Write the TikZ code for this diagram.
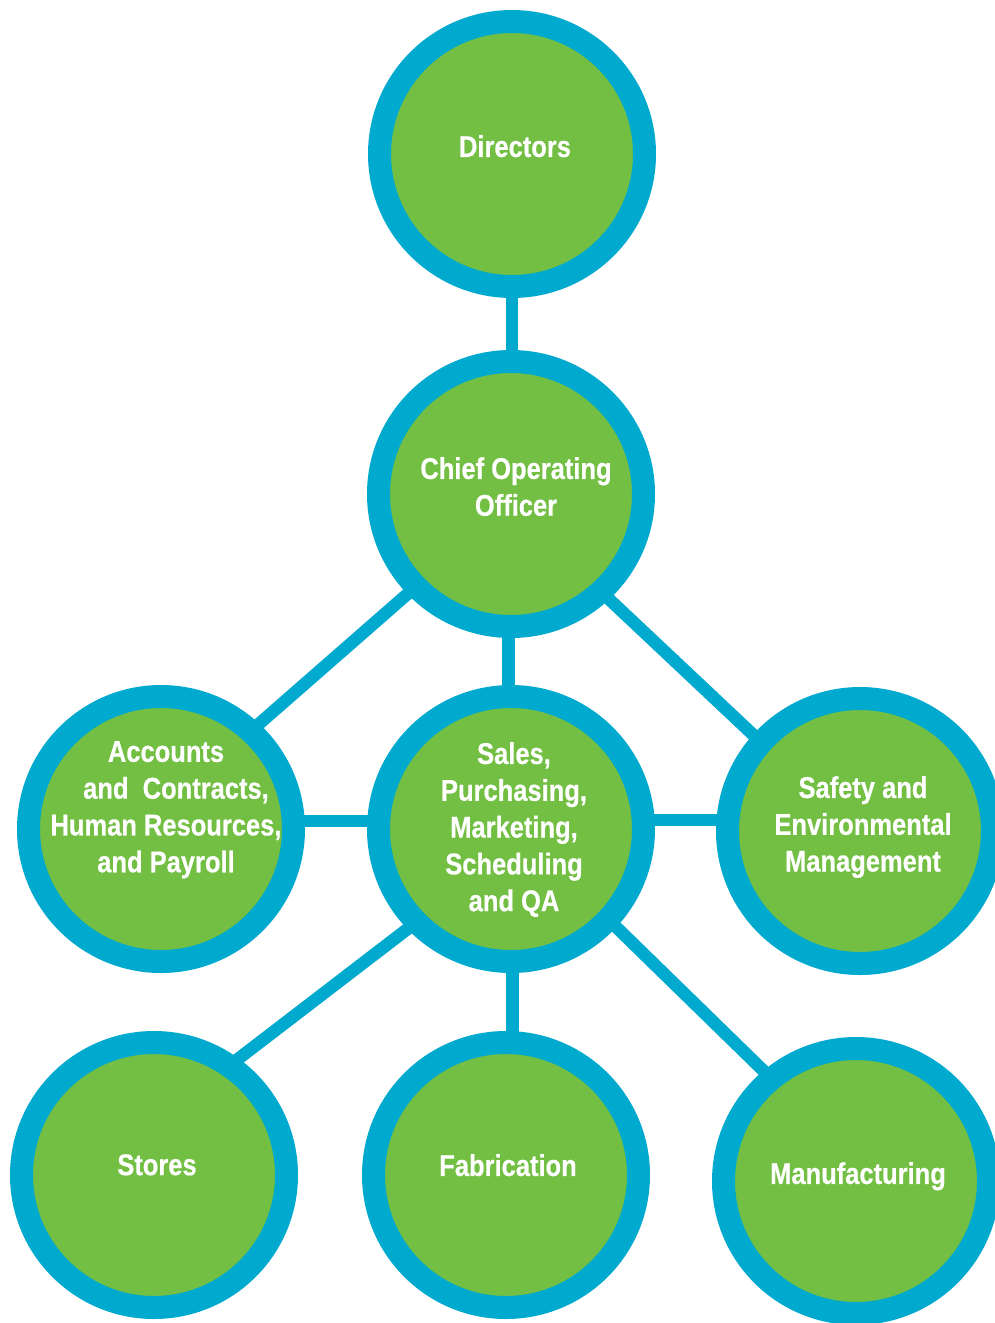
\documentclass[tikz,border=0pt]{standalone}
\usepackage{fontspec}
\setmainfont{Liberation Sans}[FakeStretch=0.85,FakeBold=0.5]
\usetikzlibrary{backgrounds}
\definecolor{ringblue}{RGB}{0,169,206}
\definecolor{discgreen}{RGB}{114,191,68}
\begin{document}
\begin{tikzpicture}[x=1pt,y=-1pt,
  unit/.style={circle, draw=ringblue, fill=discgreen, line width=23pt,
    minimum size=265pt, inner sep=0pt, outer sep=11.5pt},
  lbl/.style={anchor=north, align=center, text=white, inner sep=0pt,
    font=\bfseries\fontsize{30}{36.8}\selectfont},
  link/.style={draw=ringblue, line width=12.5pt, shorten <=-14pt, shorten >=-14pt}]
\useasboundingbox (0,0) rectangle (995,1323);

% circles
\node[unit] (dir) at (512,154) {};
\node[unit] (coo) at (511,494) {};
\node[unit] (acc) at (161,829) {};
\node[unit] (sal) at (511,829) {};
\node[unit] (saf) at (860,831) {};
\node[unit] (sto) at (154,1175) {};
\node[unit] (fab) at (506,1175) {};
\node[unit] (man) at (856,1181) {};

% labels
\node[lbl] (dirT) at (515,135) {Directors};
\node[lbl] (cooT) at (516,457) {Chief Operating\\Officer};
\node[lbl] (accT) at (166,741) {Accounts\\\hspace*{20pt}and\ \ Contracts,\\Human Resources,\\and Payroll};
\node[lbl] (salT) at (514,742) {Sales,\\Purchasing,\\Marketing,\\Scheduling\\and QA};
\node[lbl] (safT) at (863,776) {Safety and\\Environmental\\Management};
\node[lbl] (stoT) at (157,1154) {Stores};
\node[lbl] (fabT) at (508,1154) {Fabrication};
\node[lbl] (manT) at (858,1162) {Manufacturing};

% connectors behind the circles
\begin{scope}[on background layer]
  \fill[white] (0,0) rectangle (995,1323);
  \draw[link] (dir.south) -- (dir.south |- coo.north);
  \draw[link] (coo.269) -- (sal.91);
  \draw[link] ([xshift=1.5pt]sal.south) -- ([xshift=1.5pt]sal.south |- fab.north);
  \draw[link] ([yshift=8pt]sal.west) -- ([yshift=8pt]sal.west -| acc.east);
  \draw[link] ([yshift=9pt]sal.east) -- ([yshift=9pt]sal.east -| saf.west);
  \draw[link] (coo.224) -- (acc.47);
  \draw[link] (coo.313) -- (saf.138);
  \draw[link] (sal.224) -- (sto.54);
  \draw[link] (sal.317) -- (man.130);
\end{scope}
\end{tikzpicture}
\end{document}
